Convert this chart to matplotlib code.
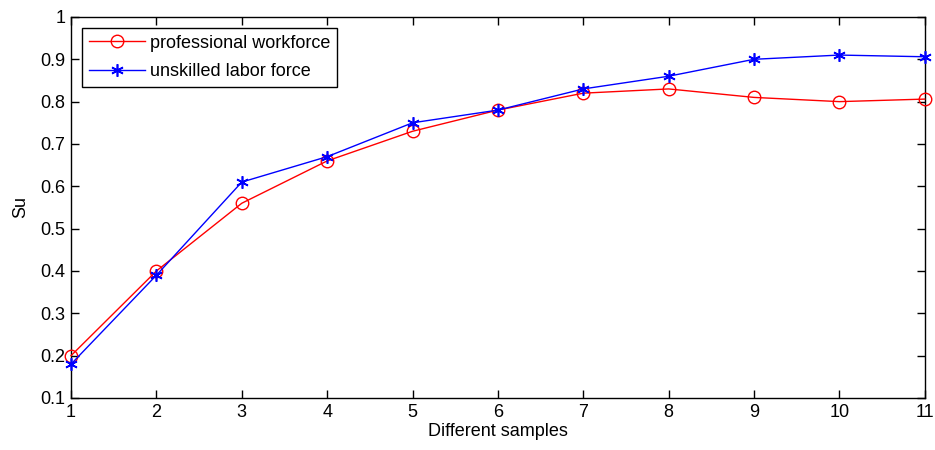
from matplotlib import pyplot as plt

plt.rcParams['font.family'] = ['Liberation Sans', 'DejaVu Sans']

samples = [1, 2, 3, 4, 5, 6, 7, 8, 9, 10, 11]
professional = [0.20, 0.40, 0.56, 0.66, 0.73, 0.78, 0.82, 0.83, 0.81, 0.80, 0.806]
unskilled = [0.18, 0.39, 0.61, 0.67, 0.75, 0.78, 0.83, 0.86, 0.90, 0.91, 0.906]

fig = plt.figure(figsize=(9.35, 4.5), dpi=100)
ax = fig.add_axes([0.076, 0.1156, 0.913, 0.8467])

ax.plot(samples, professional, color='red', linewidth=1, marker='o',
        markersize=9, markerfacecolor='none', markeredgecolor='red',
        label='professional workforce', clip_on=False, zorder=3)
ax.plot(samples, unskilled, color='blue', linewidth=1, marker=(6, 2, 0),
        markersize=9, markeredgewidth=1.2, label='unskilled labor force',
        clip_on=False, zorder=3)

ax.set_xlim(1, 11)
ax.set_ylim(0.1, 1)
ax.set_xticks(samples)
ax.set_yticks([0.1, 0.2, 0.3, 0.4, 0.5, 0.6, 0.7, 0.8, 0.9, 1.0])
ax.set_yticklabels(['0.1', '0.2', '0.3', '0.4', '0.5', '0.6', '0.7', '0.8', '0.9', '1'])
ax.tick_params(direction='in', top=True, right=True, labelsize=13, length=6, width=1, pad=4)
for s in ax.spines.values():
    s.set_linewidth(1)
ax.set_xlabel('Different samples', fontsize=13, labelpad=2)
ax.set_ylabel('Su', fontsize=13, labelpad=8)

leg = ax.legend(loc='upper left', fontsize=13, fancybox=False, framealpha=1,
                edgecolor='black', handlelength=3.1, borderaxespad=0.6,
                labelspacing=0.62, borderpad=0.38, handletextpad=0.3)
leg.get_frame().set_linewidth(1)

plt.savefig('out.png', dpi=100)
